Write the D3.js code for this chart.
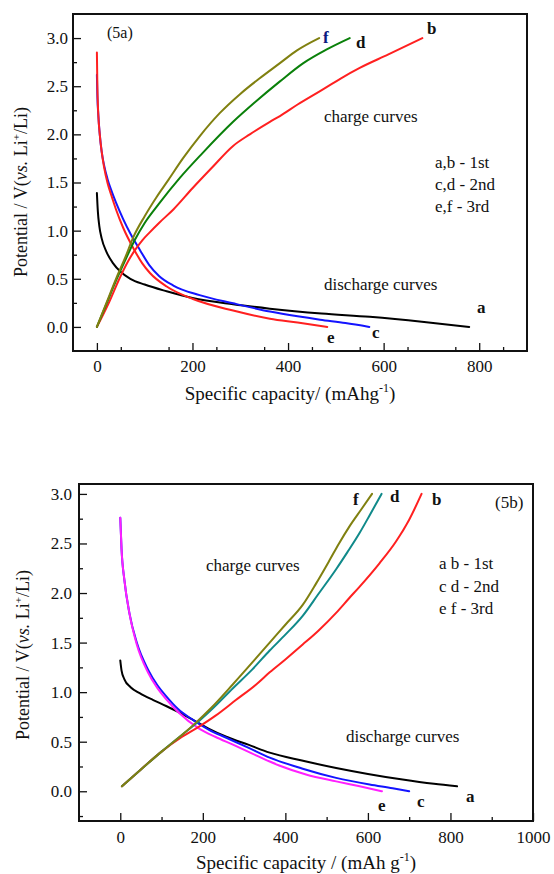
<!DOCTYPE html>
<html><head><meta charset="utf-8">
<script src="https://cdnjs.cloudflare.com/ajax/libs/d3/7.8.5/d3.min.js"></script>
<style>
body{margin:0;background:#fff;}
svg{display:block;}
svg text{font-family:"Liberation Serif","Times New Roman","DejaVu Serif",serif;}
</style></head>
<body><svg id="c" width="554" height="874"></svg>
<script>
// ---------- Panel 5a data (capacity mAh/g, potential V) ----------
const a5_discharge_a = [[0,1.39],[2,1.2],[5,1.05],[10,0.92],[20,0.78],[34,0.66],[50,0.57],[70,0.5],[100,0.44],[146,0.37],[200,0.30],[285,0.235],[362,0.19],[470,0.14],[571,0.105],[680,0.055],[779,0.0]];
const a5_discharge_c = [[0,2.62],[1,2.4],[3,2.2],[6,2.0],[10,1.82],[15,1.68],[22,1.54],[30,1.42],[40,1.29],[55,1.12],[70,0.97],[90,0.8],[110,0.64],[130,0.53],[160,0.43],[215,0.33],[285,0.245],[362,0.16],[420,0.11],[467,0.075],[520,0.04],[570,0.0]];
const a5_discharge_e = [[0,2.85],[1,2.5],[3,2.2],[6,2.0],[10,1.82],[15,1.66],[22,1.5],[30,1.37],[40,1.22],[55,1.03],[76,0.82],[95,0.66],[111,0.56],[146,0.42],[201,0.29],[285,0.17],[362,0.085],[420,0.045],[482,0.0]];
const a5_charge_b = [[0,0.0],[25,0.25],[47,0.5],[65,0.68],[80,0.8],[95,0.9],[110,0.98],[130,1.08],[160,1.22],[200,1.44],[240,1.65],[285,1.88],[320,2.0],[362,2.13],[383,2.19],[420,2.31],[467,2.45],[510,2.58],[550,2.69],[610,2.83],[681,3.0]];
const a5_charge_d = [[0,0.0],[20,0.24],[40,0.48],[60,0.7],[79,0.9],[100,1.08],[130,1.28],[174,1.55],[220,1.8],[285,2.13],[330,2.33],[383,2.55],[432,2.74],[480,2.88],[529,3.0]];
const a5_charge_f = [[0,0.0],[20,0.25],[40,0.5],[60,0.73],[76,0.93],[100,1.15],[125,1.35],[150,1.53],[180,1.75],[215,1.98],[257,2.22],[300,2.42],[340,2.58],[383,2.74],[418,2.87],[465,3.0]];

// ---------- Panel 5b data ----------
const b5_discharge_a = [[0,1.32],[3,1.22],[10,1.13],[25,1.05],[47,0.99],[80,0.92],[111,0.86],[140,0.8],[176,0.72],[215,0.63],[257,0.55],[310,0.47],[362,0.39],[440,0.31],[523,0.235],[600,0.175],[684,0.118],[760,0.075],[816,0.05]];
const b5_discharge_c = [[0,2.76],[3,2.45],[10,2.13],[22,1.8],[40,1.5],[67,1.23],[90,1.07],[111,0.96],[140,0.83],[176,0.72],[215,0.62],[257,0.54],[310,0.44],[362,0.34],[440,0.23],[523,0.135],[604,0.068],[660,0.03],[700,0.0]];
const b5_discharge_e = [[0,2.76],[3,2.45],[10,2.13],[22,1.8],[40,1.48],[67,1.2],[90,1.04],[111,0.93],[140,0.8],[192,0.63],[230,0.55],[273,0.47],[320,0.38],[362,0.3],[385,0.26],[450,0.17],[523,0.1],[580,0.05],[634,0.0]];
const b5_charge_b = [[4,0.05],[50,0.22],[100,0.4],[150,0.55],[192,0.655],[230,0.76],[280,0.92],[330,1.08],[362,1.2],[400,1.33],[442,1.48],[480,1.62],[523,1.8],[555,1.95],[579,2.06],[628,2.3],[668,2.52],[700,2.74],[730,3.0]];
const b5_charge_d = [[4,0.05],[50,0.22],[100,0.4],[150,0.57],[180,0.67],[220,0.82],[273,1.04],[320,1.23],[362,1.42],[400,1.58],[442,1.77],[480,1.99],[523,2.24],[550,2.41],[579,2.6],[605,2.79],[633,3.0]];
const b5_charge_f = [[4,0.05],[50,0.22],[100,0.4],[150,0.57],[180,0.68],[220,0.84],[273,1.08],[320,1.3],[362,1.5],[400,1.68],[442,1.88],[475,2.1],[507,2.33],[530,2.5],[555,2.67],[585,2.85],[610,3.0]];

// ---------- Ticks ----------
const a5_xTicks = [0,200,400,600,800];
const b5_xTicks = [0,200,400,600,800,1000];
const yTicks = [0,0.5,1.0,1.5,2.0,2.5,3.0];

const FONT = "Liberation Serif";
const svg = d3.select("#c");

function panel(cfg){
  const x = d3.scaleLinear().domain(cfg.xDomain).range([cfg.left, cfg.right]);
  const y = d3.scaleLinear().domain(cfg.yDomain).range([cfg.bottom, cfg.top]);
  const g = svg.append("g");
  const xMinor = d3.range(cfg.xDomain[0], cfg.xDomain[1]+1e-6, 100).filter(v => v > cfg.xDomain[0] && v < cfg.xDomain[1] && !cfg.xTicks.includes(v));
  const yMinor = d3.range(-0.25, 3.3, 0.25).filter(v => v > cfg.yDomain[0] && v < cfg.yDomain[1] && !yTicks.some(t => Math.abs(t-v)<1e-6));

  const xa = g.append("g").attr("transform", `translate(0,${cfg.bottom})`)
    .call(d3.axisBottom(x).tickValues(cfg.xTicks).tickSizeInner(-8).tickSizeOuter(0).tickPadding(cfg.xPad).tickFormat(d3.format("d")));
  xa.attr("font-family", FONT).attr("font-size", 17);
  xa.select(".domain").remove();
  xa.selectAll("text").attr("fill","#111");
  xa.selectAll("line").attr("stroke","#111").attr("stroke-width",1.3);
  g.append("g").attr("transform", `translate(0,${cfg.bottom})`)
    .call(d3.axisBottom(x).tickValues(xMinor).tickSizeInner(-4).tickSizeOuter(0).tickFormat(""))
    .call(s => { s.select(".domain").remove(); s.selectAll("line").attr("stroke","#111").attr("stroke-width",1.3); });

  const ya = g.append("g").attr("transform", `translate(${cfg.left},0)`)
    .call(d3.axisLeft(y).tickValues(yTicks).tickSizeInner(-8).tickSizeOuter(0).tickPadding(cfg.yPad).tickFormat(d3.format(".1f")));
  ya.attr("font-family", FONT).attr("font-size", 17);
  ya.select(".domain").remove();
  ya.selectAll("text").attr("fill","#111");
  ya.selectAll("line").attr("stroke","#111").attr("stroke-width",1.3);
  g.append("g").attr("transform", `translate(${cfg.left},0)`)
    .call(d3.axisLeft(y).tickValues(yMinor).tickSizeInner(-4).tickSizeOuter(0).tickFormat(""))
    .call(s => { s.select(".domain").remove(); s.selectAll("line").attr("stroke","#111").attr("stroke-width",1.3); });

  g.append("rect").attr("x", cfg.left).attr("y", cfg.top)
    .attr("width", cfg.right-cfg.left).attr("height", cfg.bottom-cfg.top)
    .attr("fill","none").attr("stroke","#111").attr("stroke-width",2);

  const line = d3.line().x(d => x(d[0])).y(d => y(d[1])).curve(d3.curveMonotoneX);
  cfg.series.forEach(s => {
    g.append("path").datum(s.data).attr("d", line).attr("fill","none")
      .attr("stroke", s.color).attr("stroke-width", 2).attr("stroke-linejoin","round").attr("stroke-linecap","round");
  });
  return {x, y, g};
}

function txt(x, y, s, opt={}){
  return svg.append("text").attr("x", x).attr("y", y).text(s)
    .attr("font-family", FONT)
    .attr("font-size", opt.size || 17).attr("font-weight", opt.bold ? "bold" : "normal")
    .attr("fill", opt.color || "#111").attr("text-anchor", opt.anchor || "start");
}

function yTitle(cx, cy, size, sep){
  const t = svg.append("text").attr("transform", `translate(${cx},${cy}) rotate(-90)`)
    .attr("font-family", FONT).attr("text-anchor","middle").attr("font-size", size).attr("fill","#111");
  t.append("tspan").text("Potential /" + sep + "V(");
  t.append("tspan").attr("font-style","italic").text("vs.");
  t.append("tspan").text(" Li");
  t.append("tspan").attr("dy", -7).attr("font-size", size*0.62).text("+");
  t.append("tspan").attr("dy", 7).text("/Li)");
}

function xTitle(cx, y, main, size){
  const t = svg.append("text").attr("x", cx).attr("y", y).attr("text-anchor","middle")
    .attr("font-family", FONT).attr("font-size", size).attr("fill","#111");
  t.append("tspan").text(main);
  t.append("tspan").attr("dy", -8).attr("font-size", 12).text("-1");
  t.append("tspan").attr("dy", 8).text(")");
}

// ---------- Panel 5a ----------
panel({
  left: 73, right: 527, top: 14, bottom: 351, xPad: 9, yPad: 5,
  xDomain: [-50, 900], yDomain: [-0.25, 3.25], xTicks: a5_xTicks,
  series: [
    {data: a5_discharge_a, color: "#000000"},
    {data: a5_discharge_c, color: "#1414ff"},
    {data: a5_discharge_e, color: "#ff2020"},
    {data: a5_charge_b, color: "#ff2020"},
    {data: a5_charge_d, color: "#0a800a"},
    {data: a5_charge_f, color: "#808010"}
  ]
});
txt(107, 38, "(5a)", {size: 16});
txt(323, 43, "f", {bold: true, color: "#0a1a80"});
txt(356, 48, "d", {bold: true});
txt(427, 34, "b", {bold: true});
txt(324, 122, "charge curves");
txt(435, 168, "a,b - 1st");
txt(435, 190, "c,d - 2nd");
txt(435, 212, "e,f - 3rd");
txt(324, 290, "discharge curves");
txt(477, 313, "a", {bold: true});
txt(372, 338, "c", {bold: true});
txt(327, 343, "e", {bold: true});
xTitle(290, 400, "Specific capacity/ (mAhg", 19);
yTitle(27, 192, 18, " ");

// ---------- Panel 5b ----------
panel({
  left: 79, right: 533, top: 484, bottom: 821, xPad: 10, yPad: 7,
  xDomain: [-100, 1000], yDomain: [-0.3, 3.1], xTicks: b5_xTicks,
  series: [
    {data: b5_discharge_a, color: "#000000"},
    {data: b5_discharge_c, color: "#1414ff"},
    {data: b5_discharge_e, color: "#ff20ff"},
    {data: b5_charge_b, color: "#ff2020"},
    {data: b5_charge_d, color: "#108a8a"},
    {data: b5_charge_f, color: "#808010"}
  ]
});
txt(495, 508, "(5b)");
txt(353, 505, "f", {bold: true});
txt(390, 502, "d", {bold: true});
txt(432, 505, "b", {bold: true});
txt(206, 571, "charge curves");
txt(439, 569, "a b - 1st");
txt(439, 592, "c d - 2nd");
txt(439, 614, "e f - 3rd");
txt(346, 742, "discharge curves");
txt(466, 802, "a", {bold: true});
txt(417, 807, "c", {bold: true});
txt(378, 811, "e", {bold: true});
xTitle(306, 869, "Specific capacity / (mAh g", 19);
yTitle(29, 655, 18, "  ");
</script></body></html>
